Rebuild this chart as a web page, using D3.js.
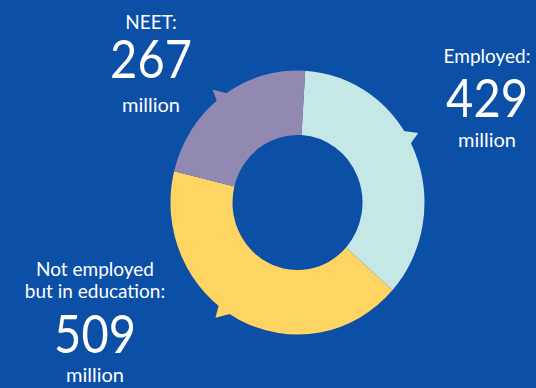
<!DOCTYPE html>
<html>
<head>
<meta charset="utf-8">
<script src="https://cdn.jsdelivr.net/npm/d3@7"></script>
<style>
  html, body { margin: 0; padding: 0; background: #0b4fa7; }
  svg { display: block; }
  text { font-family: Lato, "Open Sans", sans-serif; fill: #ffffff; }
</style>
</head>
<body>
<svg id="chart" width="536" height="388"></svg>
<script>
// Young people by activity status (millions)
const categories = ["Employed", "Not employed but in education", "NEET"];
const values = [429, 509, 267];
const labelLines = [["Employed:"], ["Not employed", "but in education:"], ["NEET:"]];
const unitLabel = "million";

const colors = ["#c5e7e6", "#fed463", "#9289b3"];

const W = 536, H = 388;
const cx = 297.5, cy = 202.5, squash = 1.04;
const rOuter = 127, rInner = 65;
const startDeg = 3.5;

// label blocks: anchor x, baselines of the label lines, number and unit
const labelLayout = [
  { x: 487, lines: [63], num: 116.5, unit: 147 },
  { x: 95, lines: [276, 298], num: 353, unit: 381.5 },
  { x: 151, lines: [29], num: 77.5, unit: 111.5 }
];

// callout pointers on the ring edge: [base start, base end, tip] in degrees
const pointers = [
  [56, 64, 61],
  [211, 219, 216.5],
  [320, 327, 322]
];

const svg = d3.select("#chart");
svg.append("rect").attr("width", W).attr("height", H).attr("fill", "#0b4fa7");

const rad = d => d * Math.PI / 180;
const pie = d3.pie().sort(null)
  .startAngle(rad(startDeg))
  .endAngle(rad(startDeg) + 2 * Math.PI);
const arcs = pie(values);
const arc = d3.arc().innerRadius(rInner).outerRadius(rOuter);

const ring = svg.append("g")
  .attr("transform", `translate(${cx},${cy}) scale(1,${squash})`);

// polar point, angle measured clockwise from 12 o'clock
const polar = (deg, r) => [r * Math.sin(rad(deg)), -r * Math.cos(rad(deg))];

ring.selectAll("path.pointer")
  .data(pointers)
  .join("path")
  .attr("class", "pointer")
  .attr("fill", (d, i) => colors[i])
  .attr("d", d => {
    const a = polar(d[0], rOuter - 3), b = polar(d[1], rOuter - 3), t = polar(d[2], rOuter + 11);
    return `M${a}L${t}L${b}Z`;
  });

ring.selectAll("path.slice")
  .data(arcs)
  .join("path")
  .attr("class", "slice")
  .attr("fill", (d, i) => colors[i])
  .attr("d", arc);

const labels = svg.selectAll("g.label")
  .data(categories)
  .join("g")
  .attr("class", "label")
  .attr("text-anchor", "middle");

labels.each(function (c, i) {
  const g = d3.select(this);
  const L = labelLayout[i];
  labelLines[i].forEach((line, j) => {
    g.append("text")
      .attr("x", L.x).attr("y", L.lines[j])
      .attr("font-size", 19)
      .text(line);
  });
  g.append("text")
    .attr("transform", `translate(${L.x},${L.num}) scale(1,1.1)`)
    .attr("font-size", 47)
    .text(values[i]);
  g.append("text")
    .attr("x", L.x).attr("y", L.unit)
    .attr("font-size", 20)
    .text(unitLabel);
});
</script>
</body>
</html>
